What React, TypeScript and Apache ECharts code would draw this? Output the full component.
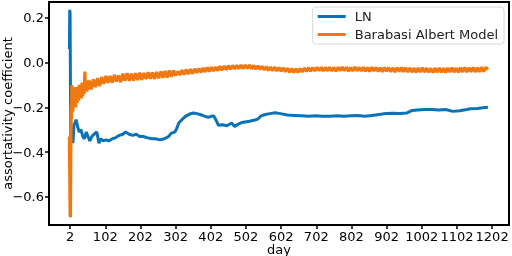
import React, { useEffect, useRef } from "react";
import * as echarts from "echarts";

const seriesNames = ["LN", "Barabasi Albert Model"];
const xTickDays = [2, 102, 202, 302, 402, 502, 602, 702, 802, 902, 1002, 1102, 1202];
const yTicks = [-0.6, -0.4, -0.2, 0.0, 0.2];

// LN: [day, assortativity]
const lnPoints: [number, number][] = [
  [0, 0.06], [1, 0.235], [2, 0.22], [3, -0.1], [4, -0.33], [6, -0.36], [8, -0.3], [10, -0.36],
  [13, -0.28], [19, -0.255], [24, -0.29], [28, -0.31], [33, -0.3], [38, -0.33], [43, -0.34],
  [48, -0.31], [53, -0.33], [58, -0.35], [64, -0.33], [70, -0.32], [78, -0.31], [84, -0.36],
  [90, -0.34], [96, -0.35], [104, -0.345], [112, -0.35], [122, -0.34], [132, -0.335],
  [142, -0.325], [152, -0.32], [160, -0.31], [170, -0.32], [180, -0.325], [190, -0.32],
  [200, -0.33], [210, -0.33], [220, -0.335], [234, -0.34], [245, -0.34], [258, -0.345],
  [270, -0.34], [282, -0.33], [290, -0.315], [300, -0.31], [305, -0.295], [311, -0.27],
  [320, -0.255], [330, -0.24], [342, -0.23], [353, -0.225], [362, -0.228], [372, -0.232],
  [382, -0.238], [395, -0.245], [403, -0.24], [410, -0.238], [418, -0.26], [424, -0.28],
  [435, -0.278], [448, -0.282], [461, -0.27], [470, -0.285], [480, -0.275], [490, -0.268],
  [500, -0.265], [512, -0.262], [524, -0.258], [536, -0.252], [545, -0.238], [557, -0.232],
  [570, -0.228], [585, -0.224], [600, -0.228], [620, -0.234], [640, -0.236], [660, -0.238],
  [680, -0.24], [700, -0.238], [720, -0.24], [740, -0.24], [760, -0.238], [780, -0.24],
  [800, -0.238], [820, -0.236], [840, -0.24], [860, -0.236], [880, -0.232], [900, -0.228],
  [920, -0.226], [940, -0.228], [960, -0.225], [975, -0.214], [990, -0.212], [1010, -0.21],
  [1030, -0.21], [1050, -0.212], [1070, -0.21], [1090, -0.218], [1110, -0.215], [1130, -0.21],
  [1140, -0.206], [1160, -0.205], [1175, -0.202], [1190, -0.2],
];

// Barabasi Albert Model: early days as [day, value]
const baEarly: [number, number][] = [
  [0, -0.33], [1, -0.5], [2, -0.68], [3, -0.69], [4, -0.42], [5, -0.2], [6, -0.25], [7, -0.1],
  [8, -0.21], [9, -0.12], [10, -0.22], [11, -0.14], [12, -0.2], [13, -0.11], [14, -0.19],
  [16, -0.12], [18, -0.2], [20, -0.11], [22, -0.18], [24, -0.12], [26, -0.17], [28, -0.1],
  [30, -0.16], [32, -0.11], [34, -0.16], [36, -0.09], [38, -0.15], [40, -0.1], [42, -0.14],
  [44, -0.04], [46, -0.13], [48, -0.08], [50, -0.13], [52, -0.08], [54, -0.12],
];
// Barabasi Albert Model: from day 56, every 6 days
const baStartDay = 56;
const baStep = 6;
const baValues = [
  -0.08, -0.12, -0.075, -0.11, -0.07, -0.105, -0.065, -0.095, -0.06, -0.09,
  -0.06, -0.09, -0.055, -0.085, -0.058, -0.088, -0.05, -0.08, -0.048, -0.082,
  -0.05, -0.08, -0.048, -0.078, -0.046, -0.077, -0.047, -0.074, -0.043, -0.072,
  -0.045, -0.073, -0.042, -0.07, -0.04, -0.068, -0.038, -0.067, -0.036, -0.064,
  -0.036, -0.058, -0.04, -0.056, -0.034, -0.054, -0.032, -0.052, -0.03, -0.05,
  -0.028, -0.046, -0.027, -0.044, -0.024, -0.042, -0.022, -0.04, -0.021, -0.038,
  -0.02, -0.036, -0.017, -0.034, -0.016, -0.032, -0.014, -0.03, -0.013, -0.029,
  -0.012, -0.028, -0.011, -0.027, -0.012, -0.026, -0.011, -0.028, -0.013, -0.03,
  -0.015, -0.031, -0.017, -0.033, -0.018, -0.035, -0.02, -0.036, -0.021, -0.038,
  -0.022, -0.039, -0.024, -0.041, -0.026, -0.043, -0.027, -0.045, -0.028, -0.044,
  -0.027, -0.042, -0.025, -0.04, -0.023, -0.039, -0.022, -0.038, -0.021, -0.037,
  -0.021, -0.038, -0.022, -0.037, -0.021, -0.038, -0.022, -0.039, -0.021, -0.037,
  -0.02, -0.037, -0.021, -0.039, -0.022, -0.038, -0.02, -0.037, -0.022, -0.038,
  -0.021, -0.039, -0.022, -0.04, -0.021, -0.038, -0.022, -0.04, -0.023, -0.041,
  -0.022, -0.039, -0.023, -0.041, -0.024, -0.042, -0.023, -0.04, -0.022, -0.041,
  -0.023, -0.042, -0.024, -0.043, -0.025, -0.044, -0.024, -0.042, -0.023, -0.043,
  -0.025, -0.044, -0.026, -0.045, -0.025, -0.043, -0.024, -0.044, -0.025, -0.045,
  -0.024, -0.042, -0.023, -0.043, -0.025, -0.044, -0.023, -0.042, -0.022, -0.043,
  -0.023, -0.041, -0.022, -0.042, -0.023, -0.041, -0.021, -0.04, -0.022, -0.032,
];

const X_MIN = -58;
const X_MAX = 1250;
const Y_MIN = -0.725;
const Y_MAX = 0.27;

const FONT = "DejaVu Sans";
const FS = 13;
const GRID = { left: 49, right: 3, top: 2, bottom: 31 };

export default function App() {
  const ref = useRef<HTMLDivElement>(null);
  useEffect(() => {
    if (!ref.current) return;
    const chart = echarts.init(ref.current, undefined, { renderer: "svg" });
    const baPoints: [number, number][] = [
      ...baEarly,
      ...baValues.map((v, i) => [baStartDay + i * baStep, v] as [number, number]),
    ];
    chart.setOption({
      animation: false,
      grid: {
        ...GRID,
        containLabel: false,
        outerBoundsContain: "axisLabel",
        outerBounds: { left: -60, right: -60, top: -60, bottom: -60 },
      },
      legend: {
        orient: "vertical",
        right: 8,
        top: 7,
        padding: [3, 6, 3, 5],
        itemWidth: 28,
        itemHeight: 3,
        itemGap: 5,
        itemStyle: { borderWidth: 0 },
        icon: "rect",
        backgroundColor: "#fff",
        borderColor: "#d8d8d8",
        borderWidth: 1,
        borderRadius: 3,
        textStyle: { fontFamily: FONT, fontSize: FS, color: "#222", padding: [0, 0, 0, 4] },
        data: seriesNames,
        z: 120,
      },
      xAxis: {
        type: "value",
        min: X_MIN,
        max: X_MAX,
        name: "day",
        nameLocation: "middle",
        nameGap: 18,
        nameMoveOverlap: false,
        nameTextStyle: { fontFamily: FONT, fontSize: FS, color: "#000", verticalAlign: "top" },
        splitLine: { show: false },
        axisLine: { show: false, onZero: false },
        axisTick: {
          show: true,
          inside: false,
          length: 4,
          lineStyle: { color: "#000", width: 1.5 },
          customValues: xTickDays,
        },
        axisLabel: {
          fontFamily: FONT,
          fontSize: FS,
          color: "#000",
          margin: 5,
          customValues: xTickDays,
          formatter: (v: number) => String(v),
        },
      },
      yAxis: {
        type: "value",
        min: Y_MIN,
        max: Y_MAX,
        name: "assortativity coefficient",
        nameLocation: "middle",
        nameGap: 35,
        nameMoveOverlap: false,
        nameTextStyle: { fontFamily: FONT, fontSize: FS, color: "#000" },
        splitLine: { show: false },
        axisLine: { show: false, onZero: false },
        axisTick: {
          show: true,
          inside: false,
          length: 4,
          lineStyle: { color: "#000", width: 1.5 },
          customValues: yTicks,
        },
        axisLabel: {
          fontFamily: FONT,
          fontSize: FS,
          color: "#000",
          margin: 5,
          customValues: yTicks,
          formatter: (v: number) => v.toFixed(1).replace("-", "\u2212"),
        },
      },
      series: [
        {
          name: seriesNames[0],
          type: "line",
          data: lnPoints,
          showSymbol: false,
          symbol: "none",
          lineStyle: { color: "#0A72B8", width: 3 },
          itemStyle: { color: "#0A72B8" },
        },
        {
          name: seriesNames[1],
          type: "line",
          data: baPoints,
          showSymbol: false,
          symbol: "none",
          lineStyle: { color: "#F07810", width: 3.2 },
          itemStyle: { color: "#F07810" },
        },
      ],
    });
    return () => chart.dispose();
  }, []);
  const frameW = 512 - GRID.left - GRID.right + 2;
  const frameH = 256 - GRID.top - GRID.bottom + 2;
  return (
    <div style={{ position: "fixed", left: 0, top: 0, width: 512, height: 256 }}>
      <div ref={ref} style={{ width: 512, height: 256, position: "absolute", left: 0, top: 0 }} />
      <div
        style={{
          position: "absolute",
          left: GRID.left - 1,
          top: GRID.top - 1,
          width: frameW,
          height: frameH,
          border: "2px solid #000",
          boxSizing: "border-box",
          pointerEvents: "none",
        }}
      />
    </div>
  );
}
